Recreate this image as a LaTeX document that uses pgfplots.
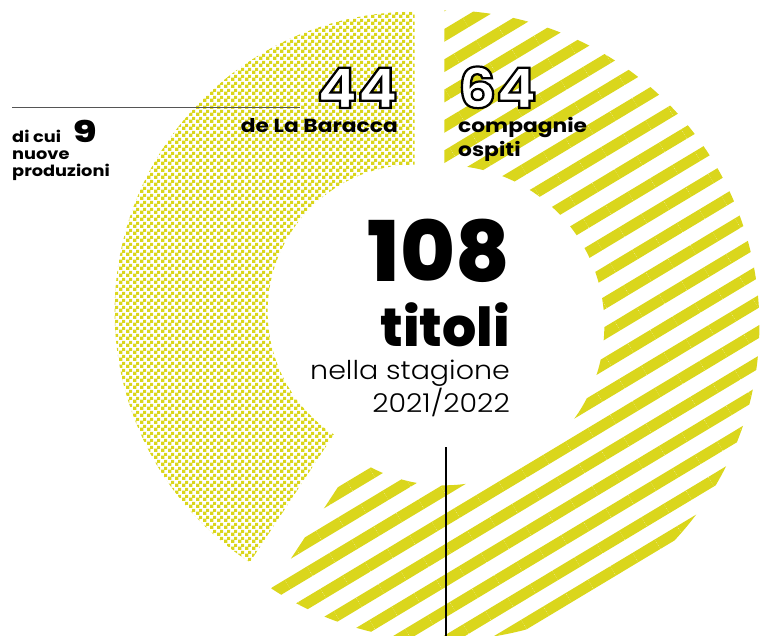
\documentclass[border=0pt]{standalone}
\usepackage{pgfplots}
\pgfplotsset{compat=1.18}
\usepackage{pgfplotstable}
\usepackage{graphicx}
\usepackage{fontspec}
\usetikzlibrary{patterns.meta,calc}
\setmainfont{Poppins}
\newfontfamily\plight{Poppins Light}
\newfontfamily\pxbold{Poppins ExtraBold}
\definecolor{yel}{RGB}{218,214,28}
\definecolor{rulegray}{RGB}{85,85,85}

\tikzdeclarepattern{
  name=checker,
  type=uncolored,
  bottom left={(0bp,0bp)},
  top right={(6.6bp,6.6bp)},
  tile size={(6.6bp,6.6bp)},
  code={\fill (0bp,0bp) rectangle (3.5bp,3.5bp); \fill (3.3bp,3.3bp) rectangle (6.6bp,6.6bp);}
}

% titoli nella stagione 2021/2022
\pgfplotstableread{
seg value
ospiti 64
baracca 44
}\titoli

\pgfplotstablegetelem{0}{value}\of\titoli \edef\vOsp{\pgfplotsretval}
\pgfplotstablegetelem{1}{value}\of\titoli \edef\vBar{\pgfplotsretval}
\pgfmathsetmacro\tot{\vOsp+\vBar}
\pgfmathsetmacro\fOsp{\vOsp/\tot}
\pgfmathsetmacro\fBar{\vBar/\tot}
\pgfmathsetmacro\ospStart{90-360*\fOsp}
\pgfmathsetmacro\barEnd{90+360*\fBar}
\pgfmathsetmacro\ospMid{90-180*\fOsp}
\pgfmathsetmacro\barMid{90+180*\fBar}
% common centre and explode distance
\def\cx{429}\def\cy{320}\def\ex{15}
\pgfmathsetmacro\ox{\cx+\ex*cos(\ospMid)+1}
\pgfmathsetmacro\oy{\cy+\ex*sin(\ospMid)-5}
\pgfmathsetmacro\bx{\cx+\ex*cos(\barMid)}
\pgfmathsetmacro\by{\cy+\ex*sin(\barMid)}

% outlined (white fill, black stroke) numbers
\newcommand\outlined[1]{{\color{white}\special{pdf:literal direct 2 Tr 2.2 w 0 0 0 RG}#1\special{pdf:literal direct 0 Tr}}}

\begin{document}
\begin{tikzpicture}
\useasboundingbox (0,0) rectangle (765bp,636bp);
\begin{axis}[
  at={(0,0)}, anchor=origin,
  scale only axis, width=765bp, height=636bp,
  xmin=0, xmax=765, ymin=0, ymax=636,
  hide axis, clip=false
]
% compagnie ospiti (stripes)
\fill[pattern={Lines[angle=31,distance=26bp,line width=11bp]}, pattern color=yel]
  ($(axis cs:\ox,\oy)+(\ospStart:315bp)$) arc[start angle=\ospStart, end angle=90, radius=315bp]
  -- ($(axis cs:\ox,\oy)+(90:160bp)$) arc[start angle=90, end angle=\ospStart, radius=160bp] -- cycle;
% de La Baracca (checker)
\fill[pattern=checker, pattern color=yel]
  ($(axis cs:\bx,\by)+(90:300bp)$) arc[start angle=90, end angle=\barEnd, radius=300bp]
  -- ($(axis cs:\bx,\by)+(\barEnd:147bp)$) arc[start angle=\barEnd, end angle=90, radius=147bp] -- cycle;

% rules
\draw[rulegray, line width=1.5bp] (axis cs:12,528.5) -- (axis cs:300,528.5);
\draw[black, line width=1.2bp] (axis cs:446,0) -- (axis cs:446,189);

% centre text
\node[anchor=base east, inner sep=0pt] at (axis cs:510,354) {\pxbold\fontsize{84}{84}\selectfont 108};
\node[anchor=base east, inner sep=0pt] at (axis cs:510,289) {\pxbold\fontsize{54}{54}\selectfont titoli};
\node[anchor=base east, inner sep=0pt] at (axis cs:510,256) {\scalebox{1.1}[1]{\plight\fontsize{26}{26}\selectfont nella stagione}};
\node[anchor=base east, inner sep=0pt] at (axis cs:510,223) {\scalebox{1.1}[1]{\plight\fontsize{26}{26}\selectfont 2021/2022}};

% segment labels
\node[anchor=base east, inner sep=0pt] at (axis cs:398,503) {\scalebox{1.15}[1]{\bfseries\fontsize{19}{19}\selectfont de La Baracca}};
\node[anchor=base west, inner sep=0pt] at (axis cs:458,503) {\scalebox{1.15}[1]{\bfseries\fontsize{19}{19}\selectfont compagnie}};
\node[anchor=base west, inner sep=0pt] at (axis cs:458,479) {\scalebox{1.15}[1]{\bfseries\fontsize{19}{19}\selectfont ospiti}};

% nuove produzioni
\node[anchor=base west, inner sep=0pt] at (axis cs:12,493) {\scalebox{1.15}[1]{\bfseries\fontsize{15.5}{15.5}\selectfont di cui}};
\node[anchor=base west, inner sep=0pt] at (axis cs:73,493) {\scalebox{1.3}[1]{\pxbold\fontsize{30}{30}\selectfont 9}};
\node[anchor=base west, inner sep=0pt] at (axis cs:12,476) {\scalebox{1.15}[1]{\bfseries\fontsize{15.5}{15.5}\selectfont nuove}};
\node[anchor=base west, inner sep=0pt] at (axis cs:12,459) {\scalebox{1.15}[1]{\bfseries\fontsize{15.5}{15.5}\selectfont produzioni}};

% outlined numbers
\node[anchor=base east, inner sep=0pt] at (axis cs:398,528) {\scalebox{1.07}[1]{\bfseries\fontsize{56}{56}\selectfont\outlined{44}}};
\node[anchor=base west, inner sep=0pt] at (axis cs:458,528) {\scalebox{1.07}[1]{\bfseries\fontsize{56}{56}\selectfont\outlined{64}}};
\end{axis}
\end{tikzpicture}
\end{document}
